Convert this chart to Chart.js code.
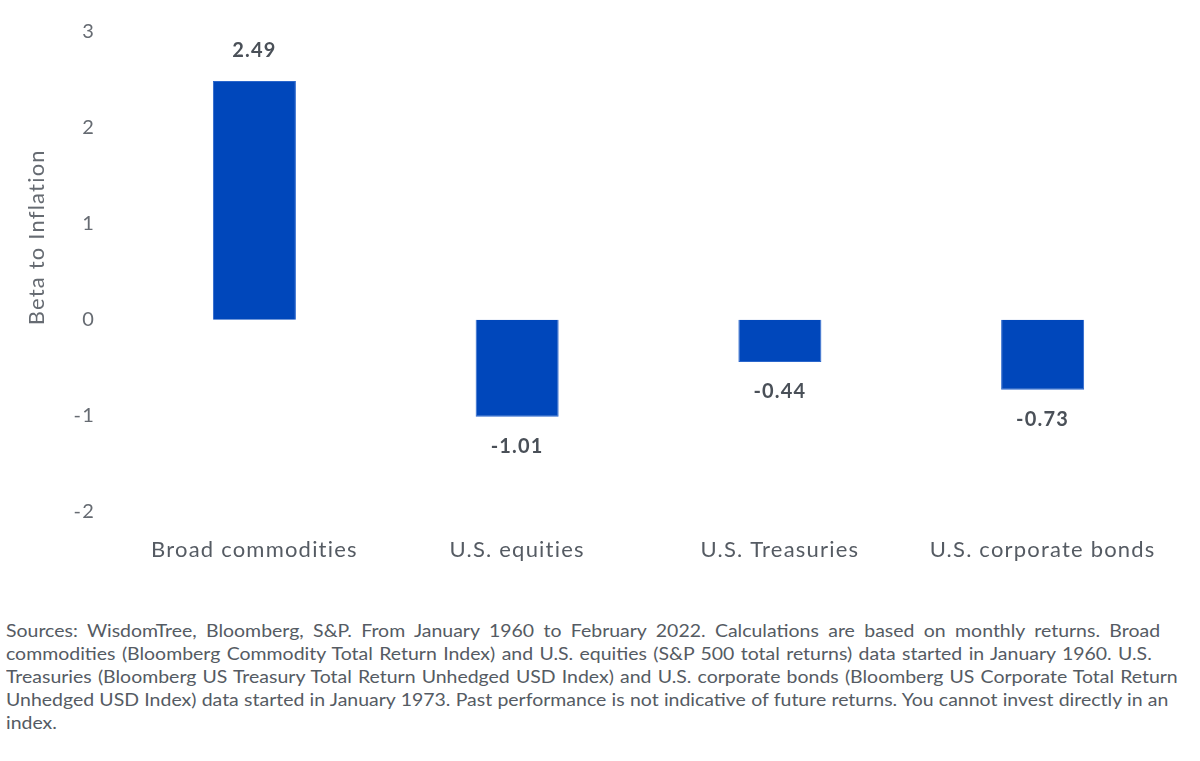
<!DOCTYPE html>
<html>
<head>
<meta charset="utf-8">
<script src="https://cdn.jsdelivr.net/npm/chart.js@4/dist/chart.umd.min.js"></script>
<style>
  body { margin: 0; background: #fff; font-family: "Lato", "Noto Sans", sans-serif; }
  #wrap { position: relative; width: 1200px; height: 608px; margin-top: -8px; }
  #note {
    position: absolute; left: 6px; top: 620px;
    font-size: 16.5px; line-height: 23px; color: #555b63;
    transform-origin: 0 0; transform: scaleX(1.18); white-space: nowrap;
  }
  #note div { text-align: justify; text-align-last: justify; }
  #note div.last { text-align-last: left; }
</style>
</head>
<body>
<div id="wrap"><canvas id="chart"></canvas></div>
<div id="note">
<div style="width:978px">Sources: WisdomTree, Bloomberg, S&amp;P. From January 1960 to February 2022. Calculations are based on monthly returns. Broad</div>
<div style="width:971px">commodities (Bloomberg Commodity Total Return Index) and U.S. equities (S&amp;P 500 total returns) data started in January 1960. U.S.</div>
<div style="width:993px">Treasuries (Bloomberg US Treasury Total Return Unhedged USD Index) and U.S. corporate bonds (Bloomberg US Corporate Total Return</div>
<div style="width:985px">Unhedged USD Index) data started in January 1973. Past performance is not indicative of future returns. You cannot invest directly in an</div>
<div class="last">index.</div>
</div>
<script>
const categories = ['Broad commodities', 'U.S. equities', 'U.S. Treasuries', 'U.S. corporate bonds'];
const betaValues = [2.49, -1.01, -0.44, -0.73];
const yTicks = [3, 2, 1, 0, -1, -2];
const yTitle = 'Beta to Inflation';

// wider letter spacing, the source text is set quite loose
const spacing = {
    id: 'spacing',
    beforeDraw(chart) {
        chart.ctx.letterSpacing = '1.2px';
    }
};

// draws the value above positive bars and below negative ones, plus the y title
const valueLabels = {
    id: 'valueLabels',
    afterDatasetsDraw(chart) {
        const ctx = chart.ctx;
        const meta = chart.getDatasetMeta(0);
        const area = chart.chartArea;
        ctx.save();
        ctx.font = 'bold 20px Lato, "Noto Sans", sans-serif';
        ctx.fillStyle = '#4a5058';
        ctx.textAlign = 'center';
        ctx.textBaseline = 'middle';
        meta.data.forEach((bar, i) => {
            const v = betaValues[i];
            const y = v >= 0 ? bar.y - 30 : bar.y + 30;
            ctx.fillText(v.toFixed(2), bar.x, y);
        });

        ctx.font = '22px Lato, "Noto Sans", sans-serif';
        ctx.fillStyle = '#666b72';
        ctx.translate(37, area.top + (area.bottom - area.top) * 0.428);
        ctx.rotate(-Math.PI / 2);
        ctx.fillText(yTitle, 0, 0);
        ctx.restore();
    }
};

new Chart(document.getElementById('chart'), {
    type: 'bar',
    data: {
        labels: categories,
        datasets: [{
            data: betaValues,
            backgroundColor: '#0047bb',
            borderColor: '#2a66cc',
            borderWidth: 1,
            barPercentage: 0.316,
            categoryPercentage: 1
        }]
    },
    options: {
        responsive: true,
        maintainAspectRatio: false,
        animation: false,
        layout: { padding: { top: 4, right: 26, bottom: 12, left: 48 } },
        plugins: { legend: { display: false }, tooltip: { enabled: false } },
        scales: {
            x: {
                grid: { display: false, drawTicks: false },
                border: { display: false },
                ticks: { color: '#555b63', font: { family: 'Lato', size: 22 }, padding: 25 }
            },
            y: {
                min: -2,
                max: 3,
                afterBuildTicks(axis) { axis.ticks = yTicks.map(v => ({ value: v })); },
                grid: { display: false, drawTicks: false },
                border: { display: false },
                ticks: { color: '#666b72', font: { family: 'Lato', size: 20 }, padding: 28 }
            }
        }
    },
    plugins: [spacing, valueLabels]
});
</script>
</body>
</html>
